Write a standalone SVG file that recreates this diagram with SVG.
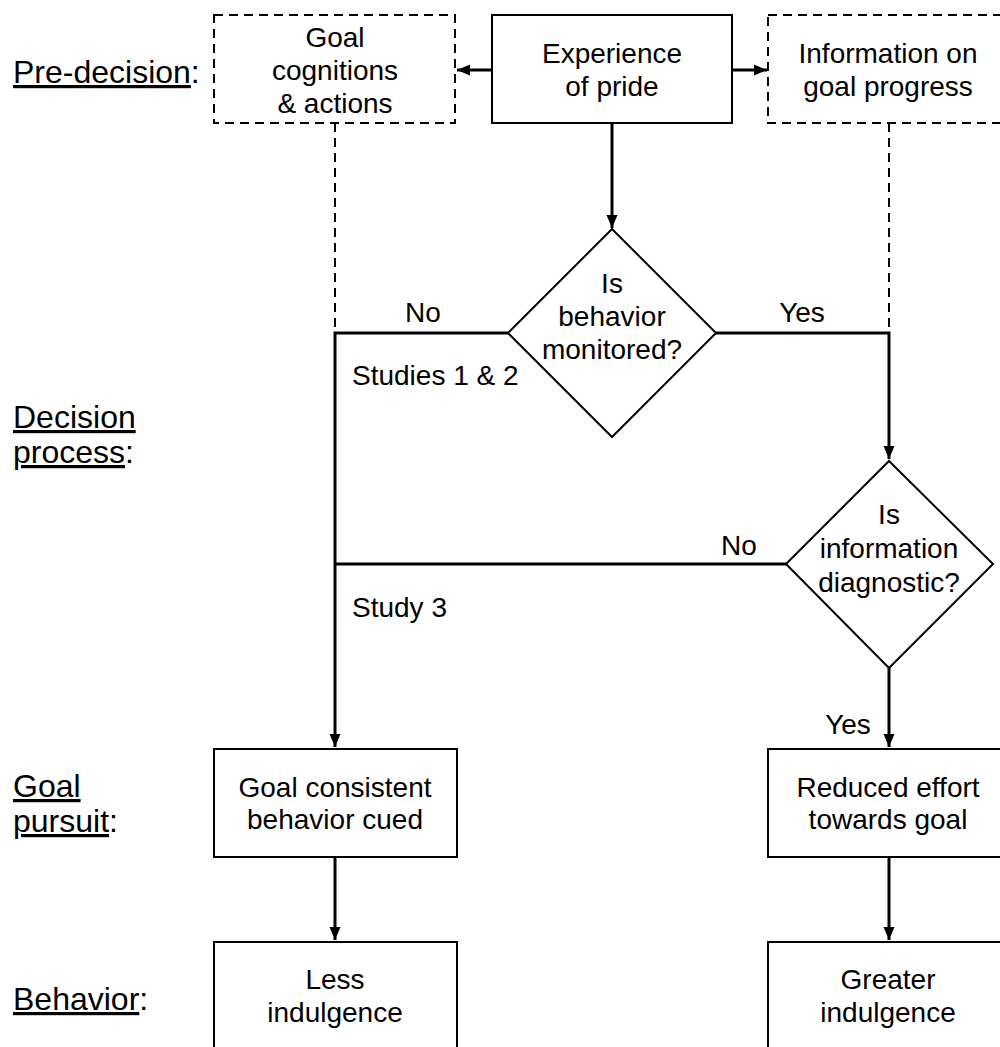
<svg xmlns="http://www.w3.org/2000/svg" width="1000" height="1047" viewBox="0 0 1000 1047">
<style>
text{font-family:"Liberation Sans",Arial,sans-serif;fill:#000}
.t{font-size:28px;text-anchor:middle}
.l{font-size:28px}
.lab{font-size:32px}
.u{text-decoration:underline}
.box{fill:#fff;stroke:#000;stroke-width:2}
.dbox{fill:#fff;stroke:#000;stroke-width:2;stroke-dasharray:9 6}
.c{fill:none;stroke:#000;stroke-width:3}
.d{fill:none;stroke:#000;stroke-width:2;stroke-dasharray:9 6}
</style>
<defs>
<marker id="ah" markerUnits="userSpaceOnUse" markerWidth="14" markerHeight="14" viewBox="0 0 14 14" refX="13" refY="7" orient="auto">
<path d="M0,1.5 L13,7 L0,12.5 Z" fill="#000"/>
</marker>
</defs>
<rect width="1000" height="1047" fill="#fff"/>

<g id="stage-labels">
<text class="lab" x="13" y="83"><tspan class="u">Pre-decision</tspan>:</text>
<text class="lab" x="13" y="428"><tspan class="u">Decision</tspan></text>
<text class="lab" x="13" y="463"><tspan class="u">process</tspan>:</text>
<text class="lab" x="13" y="797"><tspan class="u">Goal</tspan></text>
<text class="lab" x="13" y="832"><tspan class="u">pursuit</tspan>:</text>
<text class="lab" x="13" y="1010"><tspan class="u">Behavior</tspan>:</text>
</g>

<g id="connectors">
<line class="c" x1="492" y1="70" x2="457" y2="70" marker-end="url(#ah)"/>
<line class="c" x1="732" y1="70" x2="767" y2="70" marker-end="url(#ah)"/>
<line class="c" x1="612" y1="123" x2="612" y2="228" marker-end="url(#ah)"/>
<line class="d" x1="335" y1="123" x2="335" y2="333"/>
<line class="d" x1="889" y1="123" x2="889" y2="333"/>
<polyline class="c" points="508,333 335,333 335,747" marker-end="url(#ah)"/>
<polyline class="c" points="716,333 889,333 889,459" marker-end="url(#ah)"/>
<line class="c" x1="786" y1="564" x2="335" y2="564"/>
<line class="c" x1="889" y1="668" x2="889" y2="747" marker-end="url(#ah)"/>
<line class="c" x1="335" y1="857" x2="335" y2="940" marker-end="url(#ah)"/>
<line class="c" x1="889" y1="857" x2="889" y2="940" marker-end="url(#ah)"/>
<text class="t" x="423" y="322">No</text>
<text class="t" x="802" y="322">Yes</text>
<text class="l" x="352" y="385">Studies 1 &amp; 2</text>
<text class="t" x="739" y="555">No</text>
<text class="l" x="352" y="617">Study 3</text>
<text class="t" x="848" y="734">Yes</text>
</g>

<g id="goal-cognitions">
<rect class="dbox" x="214" y="15" width="241" height="108"/>
<text class="t" x="335" y="47">Goal</text>
<text class="t" x="335" y="80">cognitions</text>
<text class="t" x="335" y="113">&amp; actions</text>
</g>

<g id="experience-of-pride">
<rect class="box" x="492" y="15" width="240" height="108"/>
<text class="t" x="612" y="63">Experience</text>
<text class="t" x="612" y="96">of pride</text>
</g>

<g id="information-on-goal-progress">
<rect class="dbox" x="768" y="15" width="250" height="108"/>
<text class="t" x="888" y="63">Information on</text>
<text class="t" x="888" y="96">goal progress</text>
</g>

<g id="behavior-monitored">
<polygon class="box" points="612,229 716,333 612,437 508,333"/>
<text class="t" x="612" y="293">Is</text>
<text class="t" x="612" y="326">behavior</text>
<text class="t" x="612" y="359">monitored?</text>
</g>

<g id="information-diagnostic">
<polygon class="box" points="889,461 993,564 889,668 786,564"/>
<text class="t" x="889" y="524">Is</text>
<text class="t" x="889" y="558">information</text>
<text class="t" x="889" y="592">diagnostic?</text>
</g>

<g id="goal-consistent-behavior">
<rect class="box" x="214" y="749" width="243" height="108"/>
<text class="t" x="335" y="797">Goal consistent</text>
<text class="t" x="335" y="829">behavior cued</text>
</g>

<g id="reduced-effort">
<rect class="box" x="768" y="749" width="250" height="108"/>
<text class="t" x="888" y="797">Reduced effort</text>
<text class="t" x="888" y="829">towards goal</text>
</g>

<g id="less-indulgence">
<rect class="box" x="214" y="942" width="243" height="120"/>
<text class="t" x="335" y="989">Less</text>
<text class="t" x="335" y="1022">indulgence</text>
</g>

<g id="greater-indulgence">
<rect class="box" x="768" y="942" width="250" height="120"/>
<text class="t" x="888" y="989">Greater</text>
<text class="t" x="888" y="1022">indulgence</text>
</g>
</svg>
